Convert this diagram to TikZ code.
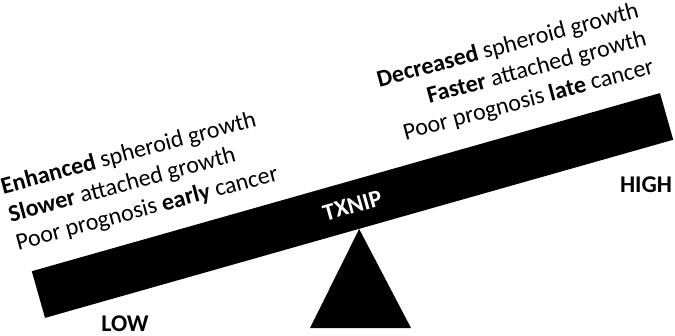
\documentclass[tikz,border=0pt]{standalone}
\usepackage{fontspec}
\setmainfont{Carlito}
\usetikzlibrary{positioning}

\begin{document}
\begin{tikzpicture}[
    x=1pt, y=1pt,
    beam/.style ={fill=black, text=white, rotate=15.83, inner sep=0pt,
                  minimum width=653pt, minimum height=48.5pt,
                  font=\fontsize{24}{28}\selectfont\bfseries},
    note/.style ={rotate=15, inner sep=0pt,
                  font=\fontsize{24}{29}\selectfont},
    level/.style={inner sep=0pt, font=\fontsize{24}{28}\selectfont\bfseries}
  ]
  \useasboundingbox (0,0) rectangle (675,335);
  \node[beam] (beam) at (352.5,129.5) {TXNIP};
  \fill (beam.south) -- (310,7) -- (411,7) -- cycle;
  \node[note, align=left, anchor=west] (lowtext) at (9,119)
    {\textbf{Enhanced} spheroid growth\\
     \textbf{Slower} attached growth\\
     Poor prognosis \textbf{early} cancer};
  \node[note, align=right, anchor=east] (hightext) at (646,296)
    {\textbf{Decreased} spheroid growth\\
     \textbf{Faster} attached growth\\
     Poor prognosis \textbf{late} cancer};
  \node[level, anchor=base] (high) at (646,142) {HIGH};
  \node[level, anchor=base] (low)  at (125,4) {LOW};
\end{tikzpicture}
\end{document}
